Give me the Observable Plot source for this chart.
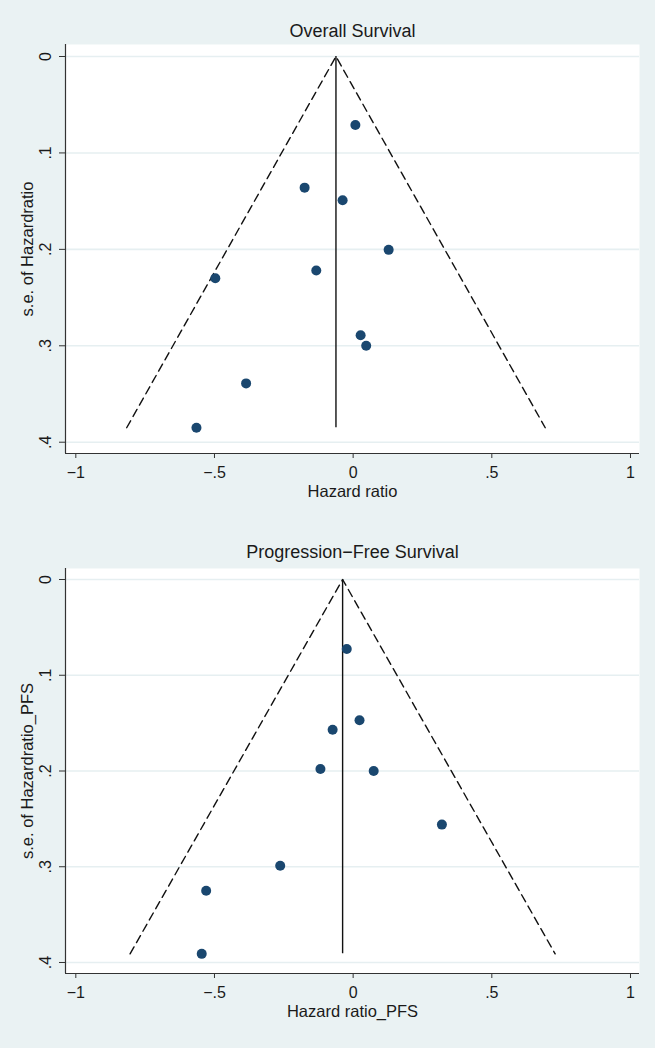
<!DOCTYPE html>
<html><head><meta charset="utf-8">
<script src="https://cdn.jsdelivr.net/npm/d3@7"></script>
<script src="https://cdn.jsdelivr.net/npm/@observablehq/plot@0.6"></script>
<style>
html,body{margin:0;padding:0;background:#eaf2f3;}
#wrap{width:655px;height:1048px;background:#eaf2f3;overflow:hidden;}
svg{display:block;}
</style></head><body><div id="wrap"></div>
<script>
// Overall survival
const osTitle = "Overall Survival";
const osXLabel = "Hazard ratio";
const osYLabel = "s.e. of Hazardratio";
const osHR = [0.008, -0.175, -0.038, 0.128, -0.133, -0.497, 0.027, 0.047, -0.386, -0.565];
const osSE = [0.071, 0.136, 0.149, 0.2005, 0.222, 0.230, 0.289, 0.300, 0.339, 0.385];
const osPooled = -0.062;

// Progression-free survival
const pfsTitle = "Progression\u2212Free Survival";
const pfsXLabel = "Hazard ratio_PFS";
const pfsYLabel = "s.e. of Hazardratio_PFS";
const pfsHR = [-0.023, 0.023, -0.074, -0.118, 0.074, 0.320, -0.263, -0.530, -0.546];
const pfsSE = [0.0725, 0.147, 0.157, 0.198, 0.200, 0.256, 0.299, 0.325, 0.391];
const pfsPooled = -0.038;

// Ticks
const xTicks = [-1, -0.5, 0, 0.5, 1];
const xTickLabels = ["\u22121", "\u2212.5", "0", ".5", "1"];
const yTicks = [0, 0.1, 0.2, 0.3, 0.4];
const yTickLabels = ["0", ".1", ".2", ".3", ".4"];

const FONT = "'Liberation Sans', Arial, Helvetica, sans-serif";
const xDomain = [-1.0372, 1.0325];

function panel(o) {
  const maxSe = d3.max(o.se);
  const pts = o.hr.map((h, i) => ({hr: h, se: o.se[i]}));
  const fun = [
    {x: o.theta - 1.96 * maxSe, y: maxSe},
    {x: o.theta, y: 0},
    {x: o.theta + 1.96 * maxSe, y: maxSe}
  ];
  return Plot.plot({
    width: 655, height: o.height,
    marginTop: o.mt, marginBottom: o.mb, marginLeft: 65, marginRight: 16,
    style: {background: "transparent", fontFamily: FONT, color: "#1a1a1a", overflow: "visible"},
    x: {domain: xDomain},
    y: {domain: o.ydom, reverse: true},
    marks: [
      Plot.frame({fill: "white", stroke: null}),
      Plot.gridY(yTicks, {stroke: "#e6eff1", strokeOpacity: 1, strokeWidth: 1.6}),
      Plot.ruleX([xDomain[0]], {stroke: "#333", strokeWidth: 1.2}),
      Plot.ruleY([o.ydom[1]], {stroke: "#333", strokeWidth: 1.2}),
      Plot.axisX(xTicks, {tickSize: 5, stroke: "#333", label: null, tickFormat: () => ""}),
      Plot.axisY(yTicks, {tickSize: 6, stroke: "#333", label: null, tickFormat: () => ""}),
      Plot.text(xTicks, {x: d => d, text: d => xTickLabels[xTicks.indexOf(d)], frameAnchor: "bottom",
        dy: 19, fontSize: 16, textAnchor: "middle", lineAnchor: "middle"}),
      Plot.text(yTicks, {y: d => d, text: d => yTickLabels[yTicks.indexOf(d)], frameAnchor: "left",
        dx: -20, rotate: -90, fontSize: 16, textAnchor: "middle", lineAnchor: "middle"}),
      Plot.line(fun, {x: "x", y: "y", stroke: "#111", strokeWidth: 1.4, strokeDasharray: "8,5"}),
      Plot.ruleX([o.theta], {y1: 0, y2: maxSe, stroke: "#111", strokeWidth: 1.4}),
      Plot.dot(pts, {x: "hr", y: "se", r: 5, fill: "#1a476f", stroke: null}),
      Plot.text([o.title], {frameAnchor: "top", textAnchor: "middle", lineAnchor: "bottom", dy: o.titleDy, fontSize: 18}),
      Plot.text([o.xLabel], {frameAnchor: "bottom", textAnchor: "middle", lineAnchor: "middle", dy: 38, fontSize: 16.5}),
      Plot.text([o.yLabel], {frameAnchor: "left", textAnchor: "middle", lineAnchor: "middle", rotate: -90, dx: -38, fontSize: 16.5})
    ]
  });
}

const wrap = document.getElementById("wrap");
wrap.appendChild(panel({
  title: osTitle, xLabel: osXLabel, yLabel: osYLabel, hr: osHR, se: osSE, theta: osPooled,
  height: 520, mt: 44, mb: 67, ydom: [-0.01245, 0.4117], titleDy: -8
}));
wrap.appendChild(panel({
  title: pfsTitle, xLabel: pfsXLabel, yLabel: pfsYLabel, hr: pfsHR, se: pfsSE, theta: pfsPooled,
  height: 528, mt: 48, mb: 75, ydom: [-0.0115, 0.4115], titleDy: -11
}));
</script></body></html>
